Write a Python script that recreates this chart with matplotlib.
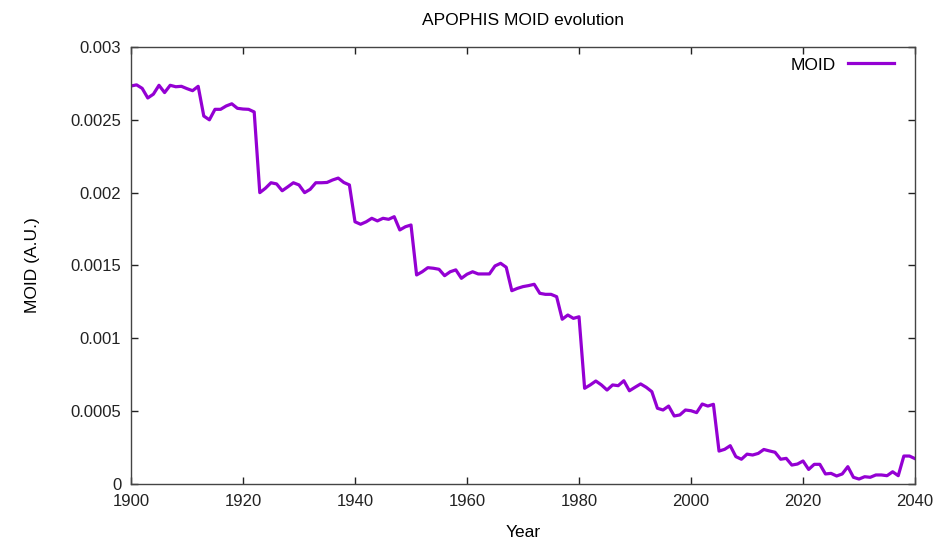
import matplotlib
matplotlib.use("Agg")
import matplotlib.pyplot as plt
from matplotlib.ticker import FuncFormatter, MultipleLocator

plt.rcParams['font.family'] = ['Liberation Sans', 'DejaVu Sans']

# yearly MOID values (A.U.), 1900..2040
years = list(range(1900, 2041))
moid = [
    0.002732, 0.002740, 0.002716, 0.002650, 0.002676, 0.002737, 0.002687, 0.002737, 0.002727, 0.002730,
    0.002714, 0.002700, 0.002730, 0.002526, 0.002500, 0.002572, 0.002572, 0.002595, 0.002610, 0.002579,
    0.002574, 0.002572, 0.002554, 0.002000, 0.002030, 0.002068, 0.002060, 0.002013, 0.002040, 0.002068,
    0.002053, 0.002000, 0.002023, 0.002068, 0.002068, 0.002070, 0.002087, 0.002100, 0.002070, 0.002053,
    0.001800, 0.001783, 0.001800, 0.001824, 0.001806, 0.001824, 0.001817, 0.001835, 0.001744, 0.001766,
    0.001778, 0.001435, 0.001457, 0.001485, 0.001481, 0.001474, 0.001430, 0.001457, 0.001470, 0.001412,
    0.001440, 0.001457, 0.001442, 0.001442, 0.001442, 0.001497, 0.001515, 0.001488, 0.001327, 0.001343,
    0.001355, 0.001362, 0.001371, 0.001309, 0.001302, 0.001302, 0.001286, 0.001131, 0.001160, 0.001137,
    0.001148, 0.000657, 0.000680, 0.000707, 0.000680, 0.000645, 0.000680, 0.000675, 0.000709, 0.000640,
    0.000664, 0.000687, 0.000664, 0.000634, 0.000520, 0.000508, 0.000535, 0.000467, 0.000474, 0.000508,
    0.000503, 0.000490, 0.000549, 0.000535, 0.000547, 0.000226, 0.000238, 0.000263, 0.000188, 0.000170,
    0.000205, 0.000199, 0.000210, 0.000237, 0.000227, 0.000218, 0.000170, 0.000176, 0.000130, 0.000137,
    0.000158, 0.000100, 0.000135, 0.000135, 0.000069, 0.000073, 0.000055, 0.000069, 0.000119, 0.000046,
    0.000034, 0.000050, 0.000046, 0.000062, 0.000062, 0.000057, 0.000084, 0.000057, 0.000192, 0.000192,
    0.000174,
]

fig = plt.figure(figsize=(9.45, 5.4), dpi=100)
ax = fig.add_axes([0.1386, 0.1037, 0.8297, 0.8093])

ax.plot(years, moid, color='#9400D3', linewidth=2.3, label='MOID')

ax.set_xlim(1900, 2040)
ax.set_ylim(0, 0.003)
ax.xaxis.set_major_locator(MultipleLocator(20))
ax.yaxis.set_major_locator(MultipleLocator(0.0005))
ax.yaxis.set_major_formatter(FuncFormatter(lambda v, p: '%g' % round(v, 6)))
ax.tick_params(direction='in', length=5, width=1, top=True, right=True,
               labelsize=12, pad=7, colors='#222222')
for s in ax.spines.values():
    s.set_color('#444444')
    s.set_linewidth(1)

ax.set_title('APOPHIS MOID evolution', fontsize=12.5, pad=16)
ax.set_xlabel('Year', fontsize=12.5, labelpad=12)
ax.set_ylabel('MOID (A.U.)', fontsize=12.5, labelpad=22)

ax.legend(loc='upper right', frameon=False, markerfirst=False, fontsize=12.5,
          handlelength=2.7, handletextpad=0.7, borderaxespad=0.2,
          bbox_to_anchor=(0.987, 1.0))

fig.savefig('out.png', dpi=100)
